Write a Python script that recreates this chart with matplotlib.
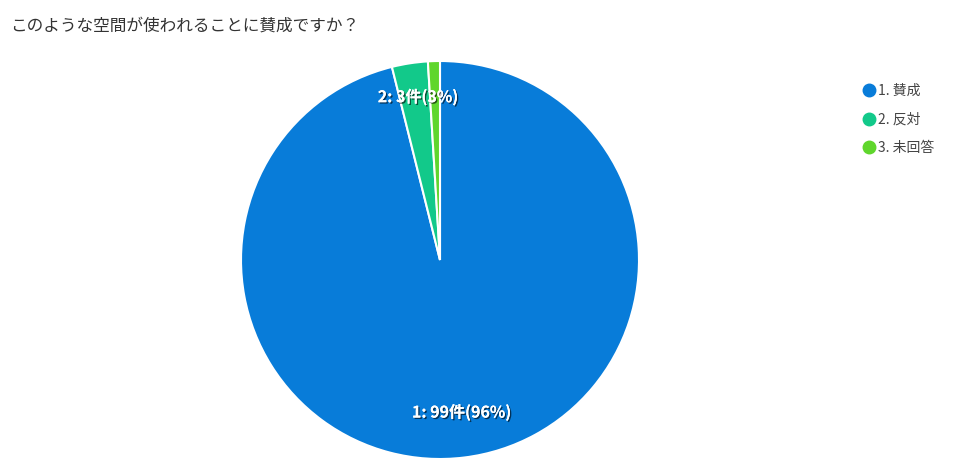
import matplotlib
matplotlib.use("Agg")
import matplotlib.pyplot as plt
import matplotlib.patheffects as pe
from matplotlib.lines import Line2D
import numpy as np

plt.rcParams['font.family'] = ['Noto Sans CJK JP', 'DejaVu Sans']

title = "このような空間が使われることに賛成ですか？"
categories = ["1. 賛成", "2. 反対", "3. 未回答"]
short_ids = ["1", "2", "3"]
counts = [99, 3, 1]
colors = ["#087cd9", "#12c98a", "#5fd62c"]

fig = plt.figure(figsize=(9.62, 4.72), dpi=100)
fig.patch.set_facecolor("white")

ax = fig.add_axes([(440 - 199) / 962, (212 - 199) / 472, 398 / 962, 398 / 472])
wedges, _ = ax.pie(counts, colors=colors, startangle=90, counterclock=False,
                   wedgeprops=dict(edgecolor="white", linewidth=1.5))
ax.set_xlim(-1, 1)
ax.set_ylim(-1, 1)
ax.set_aspect("equal")
ax.axis("off")

total = sum(counts)
label_r = [0.77, 0.83, 0.8]
for w, sid, c, r in zip(wedges, short_ids, counts, label_r):
    pct = c / total * 100
    if pct < 2:
        continue
    mid = np.deg2rad((w.theta1 + w.theta2) / 2)
    ax.text(r * np.cos(mid) + 0.015, r * np.sin(mid), f"{sid}: {c}件({pct:.0f}%)",
            ha="center", va="center", color="white", fontsize=11.5, fontweight="bold",
            path_effects=[pe.withSimplePatchShadow(offset=(1, -1), shadow_rgbFace="black", alpha=0.6),
                          pe.Normal()])

fig.text(10 / 962, 1 - 26 / 472, title, ha="left", va="center", fontsize=12, color="#333333")

handles = [Line2D([0], [0], marker="o", linestyle="none", markersize=9,
                  markerfacecolor=c, markeredgecolor=c) for c in colors]
fig.legend(handles, categories, loc="upper left", bbox_to_anchor=(856 / 962, 1 - 77 / 472),
           frameon=False, fontsize=10, handlelength=0.8, handletextpad=0.3,
           labelspacing=1.05, borderpad=0, labelcolor="#444444")

fig.savefig("out.png", dpi=100)
